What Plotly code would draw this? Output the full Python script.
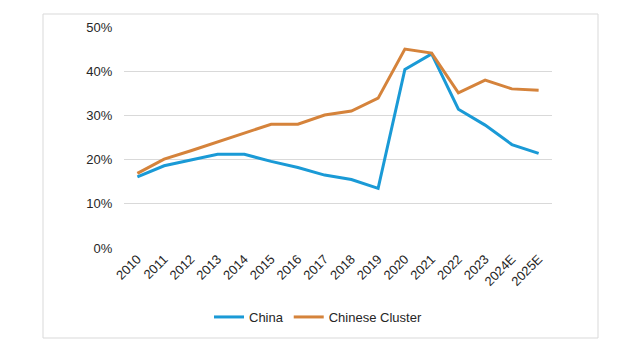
import plotly.graph_objects as go

years = ["2010", "2011", "2012", "2013", "2014", "2015", "2016", "2017",
         "2018", "2019", "2020", "2021", "2022", "2023", "2024E", "2025E"]
china = [16.1, 18.6, 19.9, 21.2, 21.2, 19.6, 18.2, 16.5, 15.5, 13.5,
         40.4, 43.9, 31.4, 27.8, 23.4, 21.4]
cluster = [16.9, 20.1, 22.0, 24.0, 26.0, 28.0, 28.0, 30.1, 31.0, 33.9,
           45.0, 44.1, 35.1, 38.0, 36.0, 35.7]
yticks = [0, 10, 20, 30, 40, 50]

W, H = 623, 353
L, R, T, B = 124, 71, 27, 105

fig = go.Figure()
fig.add_trace(go.Scatter(x=years, y=[v / 100 for v in china], name="China",
                         mode="lines", line=dict(color="#1a9ad6", width=3)))
fig.add_trace(go.Scatter(x=years, y=[v / 100 for v in cluster], name="Chinese Cluster",
                         mode="lines", line=dict(color="#d5833b", width=3)))

pw, ph = W - L - R, H - T - B
def px(x): return (x - L) / pw
def py(y): return (H - B - y) / ph

fig.add_shape(type="rect", xref="paper", yref="paper",
              x0=px(43), x1=px(598), y0=py(338), y1=py(14),
              line=dict(color="#d9d9d9", width=1), layer="below")

fig.update_layout(
    width=W, height=H,
    margin=dict(l=L, r=R, t=T, b=B),
    paper_bgcolor="white", plot_bgcolor="white",
    font=dict(family="Liberation Sans, Arial, sans-serif", size=13, color="#262626"),
    showlegend=True,
    legend=dict(orientation="h", x=px(318), xanchor="center", y=py(317), yanchor="middle",
                font=dict(size=13), itemwidth=30),
    xaxis=dict(type="category", tickangle=-45, showgrid=False, showline=False,
               zeroline=False, ticks="", range=[-0.5, len(years) - 0.5],
               tickfont=dict(size=13)),
    yaxis=dict(range=[0, 0.5], tickvals=[t / 100 for t in yticks],
               ticktext=[f"{t}%" for t in yticks],
               showgrid=True, gridcolor="#d9d9d9", gridwidth=1,
               zeroline=False, showline=False, ticks="outside", ticklen=8,
               tickcolor="rgba(0,0,0,0)", tickfont=dict(size=13)),
)

fig.write_html("out.html")
